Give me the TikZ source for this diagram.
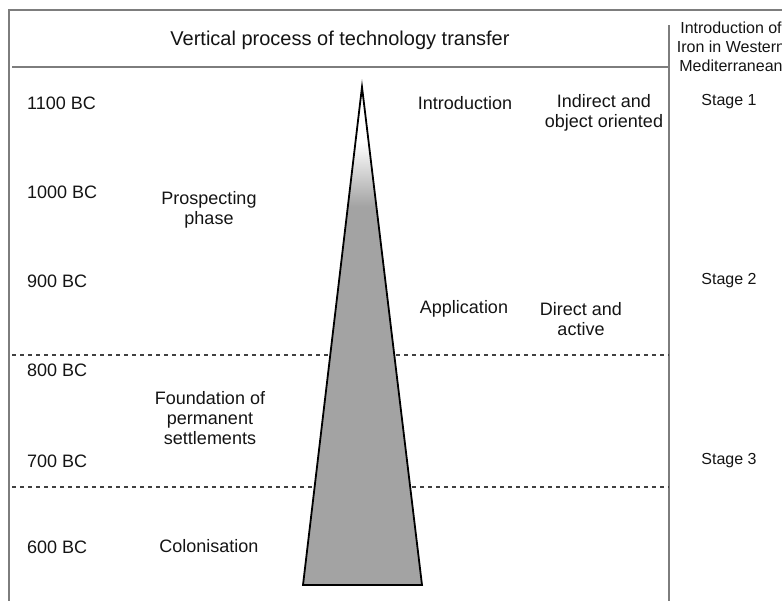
\documentclass[tikz,border=0pt]{standalone}
\usepackage{fontspec}
\setmainfont{Liberation Sans}

\definecolor{rulegray}{RGB}{125,125,125}
\definecolor{conegray}{RGB}{163,163,163}
\definecolor{inkgray}{RGB}{20,20,20}
\pgfdeclareverticalshading{conefade}{100bp}{color(0bp)=(conegray); color(63bp)=(conegray); color(69.5bp)=(white); color(100bp)=(white)}

\begin{document}
\begin{tikzpicture}[x=1pt,y=-1pt,
	lbl/.style={text=inkgray,font=\fontsize{18}{20}\selectfont,inner sep=0pt,align=center},
	yrlbl/.style={lbl,anchor=west},
	stagelbl/.style={text=inkgray,font=\fontsize{16}{19}\selectfont,inner sep=0pt,align=center},
	frame/.style={draw=rulegray,line width=2pt},
	period/.style={draw=black!75,line width=1.8pt,dash pattern=on 4pt off 4pt}]
	\clip[use as bounding box] (0,0) rectangle (782,600);
	% Frame
	\draw[frame] (9,601) -- (9,10) -- (783,10);
	\draw[frame] (12,67) -- (669,67);
	\draw[frame] (669,25) -- (669,601);
	\draw[period] (12,355) -- (669,355);
	\draw[period] (12,487) -- (669,487);
	% Cone
	\coordinate (apex) at (362,87);
	\coordinate (baseL) at (303,585);
	\coordinate (baseR) at (422,585);
	\shade[shading=conefade] (apex) -- (baseR) -- (baseL) -- cycle;
	\draw[line width=1.8pt] (apex) -- (baseR) -- (baseL) -- cycle;
	% Headers
	\node[lbl,font=\fontsize{20}{22}\selectfont] (title) at (340,40) {Vertical process of technology transfer};
	\node[stagelbl] (ironhdr) at (731,47) {Introduction of\\Iron in Western\\Mediterranean};
	% Dates
	\foreach \yr/\y in {1100/103,1000/192,900/281,800/370,700/461,600/547} {
		\node[yrlbl] (bc\yr) at (27,\y) {\yr\ BC};
	}
	% Phases
	\node[lbl] (prospect) at (209,210) {Prospecting\\phase};
	\node[lbl] (foundation) at (210,418) {Foundation of\\permanent\\settlements};
	\node[lbl] (colony) at (209,546) {Colonisation};
	\node[lbl] (intro) at (465,103) {Introduction};
	\node[lbl] (indirect) at (604,113) {Indirect and\\object oriented};
	\node[lbl] (applic) at (464,309) {Application};
	\node[lbl] (direct) at (581,319) {Direct and\\active};
	% Stages
	\foreach \s/\y in {1/102,2/281,3/461} {
		\node[stagelbl] (stage\s) at (729,\y) {Stage \s};
	}
\end{tikzpicture}
\end{document}
